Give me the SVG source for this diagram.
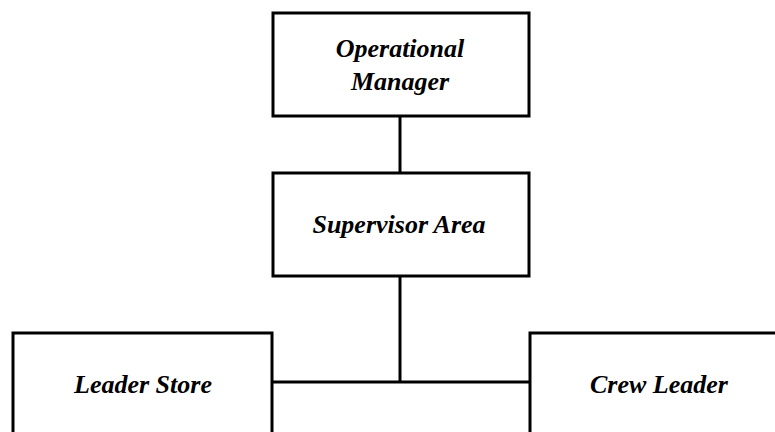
<svg xmlns="http://www.w3.org/2000/svg" width="775" height="432" viewBox="0 0 775 432">
<style>
.box{fill:#fff;stroke:#000;stroke-width:3}
.lbl{font-family:'Liberation Serif','Times New Roman','DejaVu Serif',serif;font-weight:700;font-style:italic;font-size:26px;fill:#000;text-anchor:middle}
.con{stroke:#000;stroke-width:3;fill:none}
</style>
<rect width="775" height="432" fill="#fff"/>
<g id="connectors">
<line class="con" x1="400" y1="116" x2="400" y2="172"/>
<line class="con" x1="400" y1="276" x2="400" y2="382"/>
<line class="con" x1="272" y1="382" x2="530" y2="382"/>
</g>
<g id="operational-manager">
<rect class="box" x="273" y="13" width="256" height="103"/>
<text class="lbl" x="400" y="57">Operational</text>
<text class="lbl" x="400" y="90">Manager</text>
</g>
<g id="supervisor-area">
<rect class="box" x="273" y="173" width="256" height="103"/>
<text class="lbl" x="399" y="233">Supervisor Area</text>
</g>
<g id="leader-store">
<rect class="box" x="13" y="333" width="259" height="110"/>
<text class="lbl" x="143" y="393">Leader Store</text>
</g>
<g id="crew-leader">
<rect class="box" x="530" y="333" width="260" height="110"/>
<text class="lbl" x="659" y="393">Crew Leader</text>
</g>
</svg>
